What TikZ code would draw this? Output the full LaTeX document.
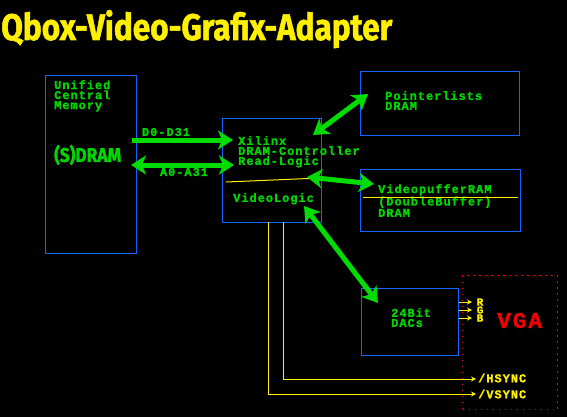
\documentclass[tikz,border=0pt]{standalone}
\usepackage{fontspec}
\usepackage{graphicx}
\usetikzlibrary{arrows.meta}
\newfontfamily\pixfont{Liberation Mono}[LetterSpace=8,BoldFeatures={FakeBold=1.2}]
\newfontfamily\pixplain{Liberation Mono}
\newfontfamily\titlefont{Fira Sans}[BoldFeatures={FakeBold=1.5}]
\definecolor{txtgreen}{RGB}{0,215,0}
\definecolor{argreen}{RGB}{0,220,0}
\definecolor{boxblue}{RGB}{20,100,255}
\definecolor{yel}{RGB}{255,240,0}
\definecolor{vgared}{RGB}{240,0,0}
\tikzset{
  blk/.style={draw=boxblue, line width=1.2pt, inner sep=0pt, anchor=north west},
  lbl/.style={text=txtgreen, font=\pixfont\bfseries\fontsize{12}{10}\selectfont, align=left, anchor=north west, inner sep=0pt},
  ylbl/.style={text=yel, font=\pixfont\bfseries\fontsize{12}{10}\selectfont, inner sep=0pt},
  bighead/.tip={Stealth[length=15pt,width=19pt,inset=4pt]},
  bus/.style={draw=argreen, line width=5pt, -bighead},
  bibus/.style={draw=argreen, line width=5pt, bighead-bighead},
  sig/.style={draw=yel, line width=1pt},
  sighead/.style={sig, -{Stealth[length=5pt,width=5pt]}},
}
\begin{document}
\begin{tikzpicture}[x=1pt,y=-1pt]
\fill[black] (0,0) rectangle (567,417);
\useasboundingbox (0,0) rectangle (567,417);

% title
\node[anchor=base west, inner sep=0pt, text=yel] (title) at (1,40)
  {\resizebox{391pt}{30pt}{\titlefont\bfseries Qbox-Video-Grafix-Adapter}};

% boxes
\node[blk, minimum width=91pt, minimum height=178pt] (ucm) at (45,75) {};
\node[blk, minimum width=99pt, minimum height=104pt] (xil) at (222,118) {};
\node[blk, minimum width=159pt, minimum height=64pt] (ptr) at (360,71) {};
\node[blk, minimum width=160pt, minimum height=62pt] (vpr) at (360,169) {};
\node[blk, minimum width=97pt, minimum height=67pt] (dac) at (361,288) {};
\node[draw=vgared, line width=1.3pt, dash pattern=on 1.3pt off 4.7pt, inner sep=0pt,
      anchor=north west, minimum width=95pt, minimum height=134pt] (vga) at (462,275) {};

% texts
\node[lbl] (ucmt) at (54,80) {Unified\\Central\\Memory};
\node[anchor=west, inner sep=0pt, text=txtgreen] (sdram) at (54,155)
  {\resizebox{67pt}{17pt}{\titlefont\bfseries (S)DRAM}};
\node[lbl] (xilt) at (238,136) {Xilinx\\DRAM-Controller\\Read-Logic};
\node[lbl] (vlog) at (233,193) {VideoLogic};
\node[lbl] (ptrt) at (385,91) {Pointerlists\\DRAM};
\node[lbl] (vprt) at (378,184) {VideopufferRAM\\(DoubleBuffer)\\DRAM};
\node[lbl] (dact) at (391,308) {24Bit\\DACs};
\node[anchor=west, inner sep=0pt, text=vgared] (vgat) at (497,320.5)
  {\resizebox{45pt}{15pt}{\pixfont\bfseries VGA}};

% yellow lines inside boxes
\coordinate (yl1) at (226,182);
\coordinate (yl2) at (320,178);
\draw[sig] (yl1) -- (yl2);
\coordinate (yl3) at (363,197);
\coordinate (yl4) at (518,197);
\draw[sig] (yl3) -- (yl4);

% RGB
\foreach \l/\yy in {R/302,G/310,B/318}{
  \coordinate (rs\l) at (459,\yy);
  \coordinate (re\l) at (472,\yy);
  \draw[sighead] (rs\l) -- (re\l);
  \node[ylbl, font=\pixfont\bfseries\fontsize{11}{8}\selectfont] (lab\l) at (480,\yy) {\l};
}

% sync lines
\coordinate (hs0) at (283,222);
\coordinate (hs1) at (476,379);
\coordinate (vs0) at (268,222);
\coordinate (vs1) at (476,394);
\draw[sighead] (hs0) |- (hs1);
\draw[sighead] (vs0) |- (vs1);
\node[ylbl, anchor=west] (hsync) at (478,378) {/HSYNC};
\node[ylbl, anchor=west] (vsync) at (478,394) {/VSYNC};

% green buses
\coordinate (d0) at (132,140);
\coordinate (d1) at (233,140);
\draw[bus] (d0) -- (d1);
\node[lbl, anchor=center] (dlab) at (166,132) {D0-D31};
\coordinate (a0) at (131,165);
\coordinate (a1) at (234,165);
\draw[bibus] (a0) -- (a1);
\node[lbl, anchor=center] (alab) at (184,172) {A0-A31};
\coordinate (p0) at (313,135);
\coordinate (p1) at (368,94);
\draw[bibus] (p0) -- (p1);
\coordinate (v0) at (307,177);
\coordinate (v1) at (374,184);
\draw[bibus] (v0) -- (v1);
\coordinate (c0) at (304,206);
\coordinate (c1) at (378,303);
\draw[bibus] (c0) -- (c1);
\end{tikzpicture}
\end{document}
